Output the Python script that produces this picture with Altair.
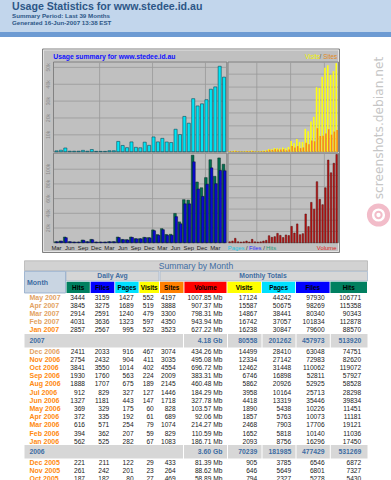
import altair as alt
import pandas as pd

# ---------------- data ----------------
months = ["Mar 2004", "Apr 2004", "May 2004", "Jun 2004", "Jul 2004", "Aug 2004", "Sep 2004", "Oct 2004",
          "Nov 2004", "Dec 2004", "Jan 2005", "Feb 2005", "Mar 2005", "Apr 2005", "May 2005", "Jun 2005",
          "Jul 2005", "Aug 2005", "Sep 2005", "Oct 2005", "Nov 2005", "Dec 2005", "Jan 2006", "Feb 2006",
          "Mar 2006", "Apr 2006", "May 2006", "Jun 2006", "Jul 2006", "Aug 2006", "Sep 2006", "Oct 2006",
          "Nov 2006", "Dec 2006", "Jan 2007", "Feb 2007", "Mar 2007", "Apr 2007", "May 2007"]
pages = [500, 900, 2200, 300, 300, 300, 800, 300, 1300, 200,
         200, 200, 600, 600, 6100, 3700, 2400, 5800, 2600, 2327, 5649, 3785,
         8756, 5818, 7903, 5763, 5438, 13319, 10164, 20926, 16898, 31448, 27142, 28410,
         30847, 37057, 38441, 50675, 44242]
hits = [1400, 2300, 7700, 1400, 900, 900, 3600, 1400, 4500, 900,
        900, 900, 1400, 1400, 7700, 4500, 4100, 7700, 5500, 5430, 7327, 6872,
        17450, 11036, 19121, 11181, 11451, 39834, 28298, 58528, 57927, 119072, 82620, 74751,
        88570, 112878, 90343, 115358, 106771]
files = [1200, 2000, 6800, 1200, 800, 800, 3200, 1200, 4000, 800,
         800, 800, 1200, 1200, 7000, 4100, 3800, 7200, 5200, 5278, 6801, 6546,
         16296, 10140, 17706, 10073, 10226, 35446, 25713, 52925, 52811, 110062, 72983, 63048,
         79600, 101834, 80340, 98269, 97930]
visits = [120, 150, 250, 120, 100, 110, 200, 130, 230, 120,
          110, 120, 250, 300, 520, 480, 700, 690, 620, 794, 646, 905,
          2093, 1652, 2468, 1857, 1890, 4418, 3958, 5862, 6746, 12462, 12334, 14499,
          16238, 16742, 14867, 15587, 17124]
sites = [60, 90, 150, 70, 60, 60, 120, 70, 140, 60,
         60, 70, 150, 200, 380, 340, 450, 440, 420, 469, 264, 433,
         1083, 829, 1074, 689, 828, 1718, 1446, 2145, 2009, 4554, 3035, 3074,
         3523, 4350, 3300, 3888, 4197]
volume_mb = [11, 19, 50, 11, 8, 10, 19, 8, 38, 10,
             8, 10, 19, 27, 80, 61, 69, 107, 84, 58.89, 88.62, 81.39,
             186.71, 110.59, 214.27, 92.06, 103.57, 327.78, 184.29, 460.48, 383.31, 696.72, 495.08, 434.26,
             627.22, 943.94, 798.31, 907.37, 1007.85]

tl_ticks = [10000, 20000, 30000, 40000, 50000]
tl_tick_labels = ["10k", "20k", "30k", "40k", "50k"]
bl_ticks = [20000, 40000, 60000, 80000, 100000]
bl_tick_labels = ["20k", "40k", "60k", "80k", "100k"]
tr_grid = [2500, 5000, 7500, 10000, 12500, 15000]
br_grid = [128, 256, 384, 512, 640, 768, 896]
year_starts = ["Jan 2005", "Jan 2006", "Jan 2007"]

tbl_months = ["May 2007", "Apr 2007", "Mar 2007", "Feb 2007", "Jan 2007",
              "Dec 2006", "Nov 2006", "Oct 2006", "Sep 2006", "Aug 2006", "Jul 2006",
              "Jun 2006", "May 2006", "Apr 2006", "Mar 2006", "Feb 2006", "Jan 2006",
              "Dec 2005", "Nov 2005", "Oct 2005"]
visited_months = ["May 2007", "Apr 2007", "Mar 2007", "Feb 2007", "Dec 2006"]
avg_hits = [3444, 3845, 2914, 4031, 2857, 2411, 2754, 3841, 1930, 1888, 912, 1327, 369, 372, 616, 394, 562, 221, 261, 187]
avg_files = [3159, 3275, 2591, 3636, 2567, 2033, 2432, 3550, 1760, 1707, 829, 1181, 329, 335, 571, 362, 525, 211, 242, 182]
avg_pages = [1427, 1689, 1240, 1323, 995, 916, 904, 1014, 563, 675, 327, 443, 175, 192, 254, 207, 282, 122, 201, 80]
avg_visits = [552, 519, 479, 597, 523, 467, 411, 402, 224, 189, 127, 147, 60, 61, 79, 59, 67, 29, 23, 27]
tot_sites = [4197, 3888, 3300, 4350, 3523, 3074, 3035, 4554, 2009, 2145, 1446, 1718, 828, 689, 1074, 829, 1083, 433, 264, 469]
tot_volume = ["1007.85 Mb", "907.37 Mb", "798.31 Mb", "943.94 Mb", "627.22 Mb", "434.26 Mb", "495.08 Mb",
              "696.72 Mb", "383.31 Mb", "460.48 Mb", "184.29 Mb", "327.78 Mb", "103.57 Mb", "92.06 Mb",
              "214.27 Mb", "110.59 Mb", "186.71 Mb", "81.39 Mb", "88.62 Mb", "58.89 Mb"]
tot_visits = [17124, 15587, 14867, 16742, 16238, 14499, 12334, 12462, 6746, 5862, 3958, 4418, 1890, 1857, 2468, 1652, 2093, 905, 646, 794]
tot_pages = [44242, 50675, 38441, 37057, 30847, 28410, 27142, 31448, 16898, 20926, 10164, 13319, 5438, 5763, 7903, 5818, 8756, 3785, 5649, 2327]
tot_files = [97930, 98269, 80340, 101834, 79600, 63048, 72983, 110062, 52811, 52925, 25713, 35446, 10226, 10073, 17706, 10140, 16296, 6546, 6801, 5278]
tot_hits = [106771, 115358, 90343, 112878, 88570, 74751, 82620, 119072, 57927, 58528, 28298, 39834, 11451, 11181, 19121, 11036, 17450, 6872, 7327, 5430]

year_labels = ["2007", "2006"]
year_volume = ["4.18 Gb", "3.60 Gb"]
year_visits = [80558, 70239]
year_pages = [201262, 181985]
year_files = [457973, 477429]
year_hits = [513920, 531269]

header_cols = ["Hits", "Files", "Pages", "Visits", "Sites", "Volume", "Visits", "Pages", "Files", "Hits"]

# ---------------- helpers ----------------
FONT = "Liberation Sans"
one = pd.DataFrame({"k": [0]})
layers = []


def rect(x0, x1, y0, y1, fill, stroke=None, sw=1.0):
    kw = dict(fill=fill)
    if stroke:
        kw.update(stroke=stroke, strokeWidth=sw)
    else:
        kw.update(strokeWidth=0)
    return alt.Chart(one).mark_rect(**kw).encode(
        x=alt.value(x0), x2=alt.value(x1), y=alt.value(y0), y2=alt.value(y1))


def label(txt, x, y, size, color, weight="normal", align="left", font=FONT, angle=None):
    kw = dict(text=txt, fontSize=size, color=color, fontWeight=weight, align=align,
              baseline="middle", font=font)
    if angle is not None:
        kw["angle"] = angle
    return alt.Chart(one).mark_text(**kw).encode(x=alt.value(x), y=alt.value(y))


# ---------------- page header ----------------
layers.append(rect(0, 391, 0, 32, "#c2d6ec"))
layers.append(rect(0, 391, 32, 37, "#6d9bd3"))
layers.append(label("Usage Statistics for www.stedee.id.au", 12, 6.5, 10.6, "#2d5687", "bold"))
layers.append(label("Summary Period: Last 39 Months", 12, 15.5, 6.2, "#2d5687", "bold"))
layers.append(label("Generated 16-Jun-2007 13:38 EST", 12, 23, 6.2, "#2d5687", "bold"))

# ---------------- graph frame ----------------
layers.append(rect(42.5, 339.5, 49, 252.5, "#c0c0c0", "#808080", 1))
layers.append(rect(43.5, 338.5, 50, 251.5, "#c0c0c0", "#ececec", 0.8))
for (x0, x1, y0, y1) in [(53.5, 226.8, 62, 151.8), (228, 338.5, 62, 151.8),
                         (53.5, 226.8, 153.2, 242.7), (228, 338.5, 153.2, 242.7)]:
    layers.append(rect(x0, x1, y0, y1, "#c0c0c0", "#7a7a7a", 0.9))

layers.append(label("Usage summary for www.stedee.id.au", 53.3, 56.5, 6.8, "#1010ff", "bold"))
layers.append(label("Visits", 305, 56.5, 6.3, "#f2f200"))
layers.append(label("/", 319.6, 56.5, 6.3, "#5a5a20"))
layers.append(label("Sites", 323.2, 56.5, 6.3, "#e08a20"))

chart_df = pd.DataFrame({"month": months, "pages": pages, "hits": hits, "files": files,
                         "visits": visits, "sites": sites, "volume": volume_mb})
chart_df["tick"] = [m[:3] if i % 3 == 0 else "" for i, m in enumerate(months)]

xl = alt.Scale(type="band", domain=months, range=[54.3, 226.3], paddingInner=0.3, paddingOuter=0.15)
xl2 = alt.Scale(type="band", domain=months, range=[54.3, 226.3], paddingInner=0.4, paddingOuter=0.2)
xr = alt.Scale(type="band", domain=months, range=[228.3, 338], paddingInner=0.45, paddingOuter=0.2)
y_tl = alt.Scale(domain=[0, 53200], range=[151.7, 62], nice=False, zero=True)
y_bl = alt.Scale(domain=[0, 121800], range=[242.7, 153.2], nice=False, zero=True)
y_tr = alt.Scale(domain=[0, 17350], range=[151.7, 62], nice=False, zero=True)
y_br = alt.Scale(domain=[0, 1022], range=[242.7, 153.2], nice=False, zero=True)
GRID = "#999999"

tl_df = pd.DataFrame({"v": tl_ticks, "t": tl_tick_labels})
bl_df = pd.DataFrame({"v": bl_ticks, "t": bl_tick_labels})
tr_df = pd.DataFrame({"v": tr_grid})
br_df = pd.DataFrame({"v": br_grid})
ys_df = pd.DataFrame({"month": year_starts})

# horizontal gridlines
layers.append(alt.Chart(tl_df).mark_rule(color=GRID, strokeWidth=0.8).encode(
    y=alt.Y("v:Q", scale=y_tl, axis=None), x=alt.value(54), x2=alt.value(226.5)))
layers.append(alt.Chart(bl_df).mark_rule(color=GRID, strokeWidth=0.8).encode(
    y=alt.Y("v:Q", scale=y_bl, axis=None), x=alt.value(54), x2=alt.value(226.5)))
layers.append(alt.Chart(tr_df).mark_rule(color=GRID, strokeWidth=0.8).encode(
    y=alt.Y("v:Q", scale=y_tr, axis=None), x=alt.value(228.5), x2=alt.value(338)))
layers.append(alt.Chart(br_df).mark_rule(color=GRID, strokeWidth=0.8).encode(
    y=alt.Y("v:Q", scale=y_br, axis=None), x=alt.value(228.5), x2=alt.value(338)))
# vertical gridlines at each January
for ys, y0, y1 in [(xl, 62.5, 151.5), (xl, 153.5, 242.5), (xr, 62.5, 151.5), (xr, 153.5, 242.5)]:
    layers.append(alt.Chart(ys_df).mark_rule(color=GRID, strokeWidth=0.8, xOffset=-1).encode(
        x=alt.X("month:N", scale=ys, axis=None), y=alt.value(y0), y2=alt.value(y1)))

# y tick labels (left panels)
layers.append(alt.Chart(tl_df).mark_text(fontSize=5.2, color="#8a8a8a", angle=270, font=FONT,
                                         baseline="middle", align="center").encode(
    y=alt.Y("v:Q", scale=y_tl, axis=None), x=alt.value(48), text="t:N"))
layers.append(alt.Chart(bl_df).mark_text(fontSize=5.2, color="#8a8a8a", angle=270, font=FONT,
                                         baseline="middle", align="center").encode(
    y=alt.Y("v:Q", scale=y_bl, axis=None), x=alt.value(48), text="t:N"))

# bars
base = alt.Chart(chart_df)
layers.append(base.mark_bar(fill="#00e6f6", stroke="#0d4a58", strokeWidth=0.6).encode(
    x=alt.X("month:N", scale=xl, axis=None), y=alt.Y("pages:Q", scale=y_tl, axis=None)))
layers.append(base.mark_bar(fill="#007050", stroke="#0a2a22", strokeWidth=0.5, xOffset=-0.6).encode(
    x=alt.X("month:N", scale=xl2, axis=None), y=alt.Y("hits:Q", scale=y_bl, axis=None)))
layers.append(base.mark_bar(fill="#0a0ad2", stroke="#0a0a40", strokeWidth=0.5, xOffset=0.7).encode(
    x=alt.X("month:N", scale=xl2, axis=None), y=alt.Y("files:Q", scale=y_bl, axis=None)))
layers.append(base.mark_bar(fill="#ffff10", xOffset=-0.4).encode(
    x=alt.X("month:N", scale=xr, axis=None), y=alt.Y("visits:Q", scale=y_tr, axis=None)))
layers.append(base.mark_bar(fill="#f4881c", xOffset=0.5).encode(
    x=alt.X("month:N", scale=xr, axis=None), y=alt.Y("sites:Q", scale=y_tr, axis=None)))
layers.append(base.mark_bar(fill="#c41010", stroke="#501010", strokeWidth=0.5).encode(
    x=alt.X("month:N", scale=xr, axis=None), y=alt.Y("volume:Q", scale=y_br, axis=None)))

# month labels
layers.append(base.transform_filter("datum.tick != ''").mark_text(
    fontSize=5.9, color="#1a1a1a", font=FONT, baseline="middle", align="center").encode(
    x=alt.X("month:N", scale=xl, axis=None), y=alt.value(247.5), text="tick:N"))

# bottom legends
layers.append(label("Pages", 227.7, 247.5, 5.9, "#22c4e4"))
layers.append(label("/", 246.7, 247.5, 5.9, "#303030", align="center"))
layers.append(label("Files", 249, 247.5, 5.9, "#2a2aff"))
layers.append(label("/", 264, 247.5, 5.9, "#303030", align="center"))
layers.append(label("Hits", 266, 247.5, 5.9, "#2a9a78"))
layers.append(label("Volume", 336.5, 247.5, 5.9, "#e02020", align="right"))

# ---------------- table ----------------
HBLUE = "#3e6da3"
layers.append(rect(24.5, 367.5, 260.8, 270.8, "#d2d2d2", "#b4b4b4", 0.8))
layers.append(label("Summary by Month", 196, 266, 8.6, HBLUE, align="center"))
layers.append(rect(24.5, 65.5, 271.3, 293, "#c9d5e2", "#8fa9c9", 0.8))
layers.append(label("Month", 27, 282.5, 7, HBLUE, "bold"))
layers.append(rect(66, 159, 271.3, 281, "#d6d6d6", "#9fb3cb", 0.7))
layers.append(rect(160, 367.5, 271.3, 281, "#d6d6d6", "#9fb3cb", 0.7))
layers.append(label("Daily Avg", 112.5, 276.3, 6.8, HBLUE, "bold", align="center"))
layers.append(label("Monthly Totals", 263, 276.3, 6.8, HBLUE, "bold", align="center"))

cell_bounds = [(66.5, 89.8), (90.6, 114.3), (115.2, 138.6), (139.4, 159), (160, 183.5),
               (184.4, 226.5), (227.4, 261), (261.9, 295.2), (296, 329.6), (330.4, 367)]
cell_colors = ["#008060", "#0000ff", "#00e0ff", "#ffff00", "#ff8000",
               "#ff0000", "#ffff00", "#00e0ff", "#0000ff", "#008060"]
for name, (x0, x1), c in zip(header_cols, cell_bounds, cell_colors):
    layers.append(rect(x0, x1, 281.8, 293, c))
    layers.append(label(name, (x0 + x1) / 2, 287.6, 6.4, "#000000", "bold", align="center"))

tbl = pd.DataFrame({"m": tbl_months, "ah": avg_hits, "af": avg_files, "ap": avg_pages, "av": avg_visits,
                    "ts": tot_sites, "tvol": tot_volume, "tv": tot_visits, "tp": tot_pages,
                    "tf": tot_files, "th": tot_hits})
tbl["visited"] = tbl["m"].isin(visited_months)
num_cols = ["ah", "af", "ap", "av", "ts", "tvol", "tv", "tp", "tf", "th"]
col_right = [85, 109.3, 133.6, 153.8, 175.7, 222.4, 257.2, 291.2, 324.6, 361.2]

sections = [(0, 5, 297.7, 330.3), (5, 17, 351.7, 441.7), (17, 20, 462.7, 479)]
for (a, b, y0, y1) in sections:
    sub = tbl.iloc[a:b]
    ysc = alt.Scale(type="point", domain=list(sub["m"]), range=[y0, y1], padding=0)
    sb = alt.Chart(sub)
    layers.append(sb.mark_text(fontSize=7, fontWeight="bold", font=FONT, align="left",
                               baseline="middle").encode(
        x=alt.value(29.5), y=alt.Y("m:N", scale=ysc, axis=None), text="m:N",
        color=alt.condition("datum.visited", alt.value("#e3a262"), alt.value("#ff8a10"))))
    for c, xr_ in zip(num_cols, col_right):
        layers.append(sb.mark_text(fontSize=6.6, font=FONT, align="right", baseline="middle",
                                   color="#202020").encode(
            x=alt.value(xr_), y=alt.Y("m:N", scale=ysc, axis=None), text=f"{c}:N"))

year_df = pd.DataFrame({"y": year_labels, "vol": year_volume, "vis": year_visits,
                        "pg": year_pages, "fl": year_files, "ht": year_hits})
for i, (y0, y1) in enumerate([(334, 347.5), (445, 458.5)]):
    yc = (y0 + y1) / 2
    for x0, x1 in [(24.5, 183), (184, 227), (228, 261.5), (262.5, 295.5), (296.5, 329.8), (330.8, 367.5)]:
        layers.append(rect(x0, x1, y0, y1, "#d7d7d7"))
    ydf = year_df.iloc[[i]]
    yb = alt.Chart(ydf)
    for c, xx, al in [("y", 29.5, "left"), ("vol", 222.4, "right"), ("vis", 257.2, "right"),
                      ("pg", 291.2, "right"), ("fl", 324.6, "right"), ("ht", 361.2, "right")]:
        layers.append(yb.mark_text(fontSize=6.8, fontWeight="bold", font=FONT, align=al,
                                   baseline="middle", color=HBLUE).encode(
            x=alt.value(xx), y=alt.value(yc), text=f"{c}:N"))

# ---------------- watermark ----------------
layers.append(label("screenshots.debian.net", 379, 128, 12.2, "#c6c6c6", font="DejaVu Sans", angle=270,
                    align="center"))
layers.append(alt.Chart(one).mark_point(shape="circle", filled=False, size=330, stroke="#f2bcc9",
                                        strokeWidth=5, opacity=1).encode(x=alt.value(378.5), y=alt.value(215)))
layers.append(alt.Chart(one).mark_point(shape="circle", filled=False, size=40, stroke="#f2bcc9",
                                        strokeWidth=2, opacity=1).encode(x=alt.value(378.5), y=alt.value(215)))

chart = alt.layer(*layers).resolve_scale(x="independent", y="independent", color="independent").properties(
    width=391, height=480, autosize=alt.AutoSizeParams(type="none"), padding=0,
    background="#ffffff").configure_view(stroke=None)

chart.save("out.html", embed_options={"renderer": "svg", "actions": False})
